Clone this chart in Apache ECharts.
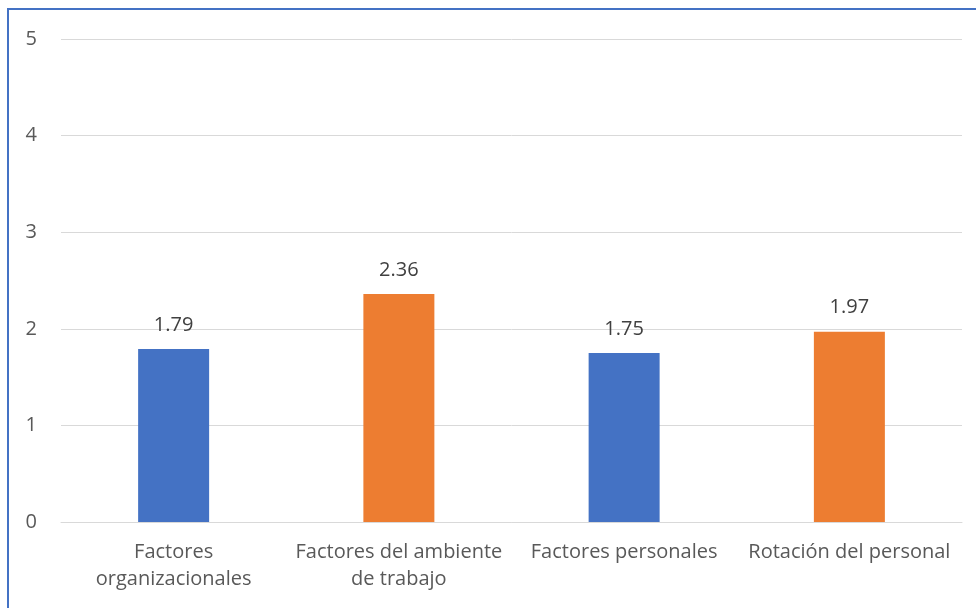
<!doctype html>
<html>
<head>
<meta charset="UTF-8">
<title>Factores</title>
<script src="https://cdn.jsdelivr.net/npm/echarts@6/dist/echarts.min.js"></script>
<style>html,body{margin:0;padding:0;background:#fff;}</style>
</head>
<body>
<div id="main" style="width:976px;height:608px;"></div>
<script>
var categories = ['Factores\norganizacionales', 'Factores del ambiente\nde trabajo', 'Factores personales', 'Rotación del personal'];
var values = [1.79, 2.36, 1.75, 1.97];
var barColors = ['#4472C4', '#ED7D31', '#4472C4', '#ED7D31'];

var chart = echarts.init(document.getElementById('main'));
chart.setOption({
    animation: false,
    textStyle: { fontFamily: 'Open Sans' },
    graphic: [{
        type: 'rect',
        shape: { x: 8, y: 9, width: 1000, height: 620 },
        style: { fill: 'none', stroke: '#4472C4', lineWidth: 2 }
    }],
    grid: { left: 61, right: 14, top: 39, bottom: 86 },
    xAxis: {
        type: 'category',
        data: categories,
        axisTick: { show: false },
        axisLine: { lineStyle: { color: '#D9D9D9' } },
        axisLabel: { color: '#595959', fontSize: 20, lineHeight: 27, margin: 17, interval: 0 }
    },
    yAxis: {
        type: 'value',
        min: 0, max: 5, interval: 1,
        axisLine: { show: false },
        axisTick: { show: false },
        splitLine: { lineStyle: { color: '#D9D9D9' } },
        axisLabel: { color: '#595959', fontSize: 20, margin: 24 }
    },
    series: [{
        type: 'bar',
        barWidth: 71,
        data: values.map(function (v, i) { return { value: v, itemStyle: { color: barColors[i] } }; }),
        label: { show: true, position: 'top', distance: 14, color: '#404040', fontSize: 20,
            formatter: function (p) { return p.value.toFixed(2); } }
    }]
});
</script>
</body>
</html>
